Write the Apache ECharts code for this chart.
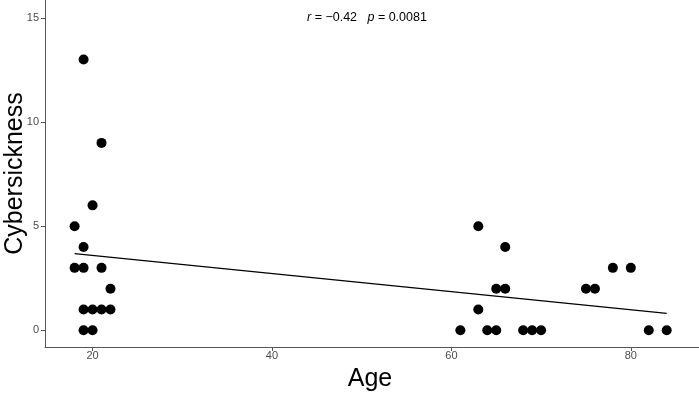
<!DOCTYPE html>
<html>
<head>
<meta charset="utf-8">
<script src="https://cdn.jsdelivr.net/npm/echarts@6/dist/echarts.min.js"></script>
<style>
  html, body { margin: 0; padding: 0; background: #fff; }
  #chart { width: 699px; height: 393px; }
</style>
</head>
<body>
<div id="chart"></div>
<script>
// age / cybersickness pairs
const ages = [19, 21, 20, 18, 19, 18, 19, 21, 22, 19, 20, 21, 22, 19, 20,
              63, 66, 78, 80, 65, 66, 75, 76, 63, 61, 64, 65, 68, 69, 70, 82, 84];
const scores = [13, 9, 6, 5, 4, 3, 3, 3, 2, 1, 1, 1, 1, 0, 0,
                5, 4, 3, 3, 2, 2, 2, 2, 1, 0, 0, 0, 0, 0, 0, 0, 0];
// fitted line end points
const fitAges = [18, 84];
const fitScores = [3.68, 0.81];
const xTicks = [20, 40, 60, 80];
const yTicks = [0, 5, 10, 15];

const points = ages.map((a, i) => [a, scores[i]]);
const fitLine = fitAges.map((a, i) => [a, fitScores[i]]);

const chart = echarts.init(document.getElementById('chart'));

const axisCol = '#555';
const labelCol = '#4d4d4d';
const font = 'Liberation Sans, Arial, sans-serif';

chart.setOption({
  animation: false,
  grid: { left: 45, right: 0, top: 0, bottom: 46, containLabel: false, outerBoundsMode: 'none' },
  xAxis: {
    type: 'value',
    min: 14.7, max: 87.6,
    name: 'Age',
    nameLocation: 'middle',
    nameGap: 20,
    nameMoveOverlap: false,
    nameTextStyle: { fontSize: 25, color: '#000', fontFamily: font, padding: [0, 4, 0, 0] },
    axisLine: { show: true, onZero: false, lineStyle: { color: axisCol, width: 1 } },
    axisTick: { show: true, length: 4, lineStyle: { color: axisCol }, customValues: xTicks },
    axisLabel: {
      color: labelCol, fontSize: 11, fontFamily: font, margin: 3,
      customValues: xTicks
    },
    splitLine: { show: false }
  },
  yAxis: {
    type: 'value',
    min: -0.8, max: 15.86,
    name: 'Cybersickness',
    nameLocation: 'middle',
    nameGap: 17,
    nameMoveOverlap: false,
    nameTextStyle: { fontSize: 25, color: '#000', fontFamily: font },
    axisLine: { show: true, onZero: false, lineStyle: { color: axisCol, width: 1 } },
    axisTick: { show: true, length: 4, lineStyle: { color: axisCol }, customValues: yTicks },
    axisLabel: {
      color: labelCol, fontSize: 11, fontFamily: font, margin: 6,
      customValues: yTicks
    },
    splitLine: { show: false }
  },
  graphic: [{
    type: 'text',
    left: 307,
    top: 11,
    style: {
      text: '{i|r} = \u22120.42   {i|p} = 0.0081',
      font: '12.5px ' + font,
      fill: '#000',
      rich: {
        i: { fontStyle: 'italic', fontSize: 12.5, fontFamily: font, fill: '#000' }
      }
    }
  }],
  series: [
    {
      type: 'line',
      data: fitLine,
      symbol: 'none',
      lineStyle: { color: '#000', width: 1.3 },
      z: 2
    },
    {
      type: 'scatter',
      data: points,
      symbolSize: 10,
      itemStyle: { color: '#000', opacity: 1 },
      z: 3
    }
  ]
});
</script>
</body>
</html>
